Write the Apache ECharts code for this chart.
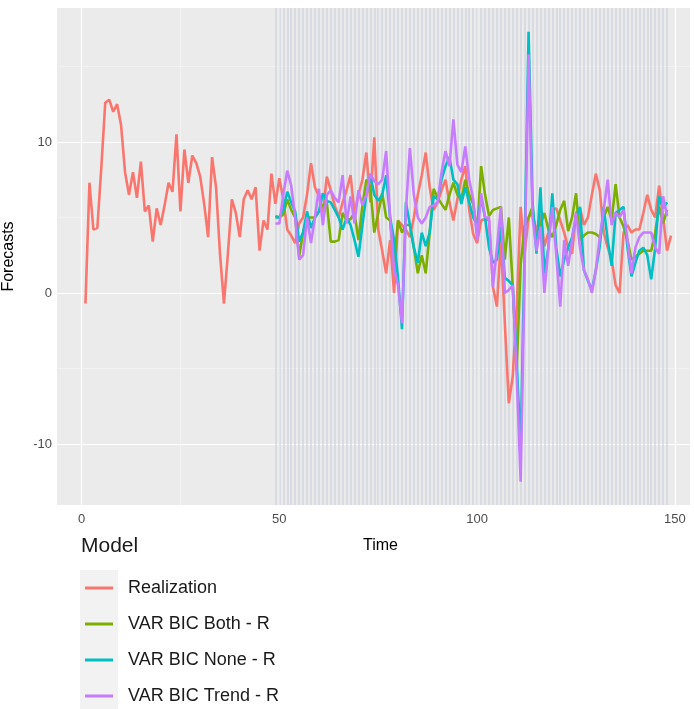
<!DOCTYPE html>
<html><head><meta charset="utf-8">
<script src="https://cdn.jsdelivr.net/npm/echarts@6/dist/echarts.min.js"></script>
<style>html,body{margin:0;padding:0;background:#fff}#c{width:694px;height:709px}</style>
</head><body><div id="c"></div>
<script>
// Realization, t = 1..149
const realization = [
 -0.7, 7.3, 4.2, 4.3, 8.3, 12.6, 12.8, 12.0, 12.5, 11.1,
  8.0, 6.5, 8.0, 6.3, 8.7, 5.4, 5.8, 3.4, 5.6, 4.5,
  5.8, 7.3, 6.7, 10.5, 5.4, 9.5, 7.3, 9.1, 8.6, 7.7,
  5.9, 3.7, 9.0, 7.0, 2.6, -0.7, 2.6, 6.2, 5.3, 3.7,
  6.2, 6.8, 6.2, 7.0, 2.8, 4.8, 4.2, 7.9, 5.9, 7.6,
  6.2, 4.2, 3.8, 3.3, 4.6, 5.0, 6.5, 8.6, 7.0, 6.4,
  5.3, 7.7, 6.8, 5.8, 5.0, 6.0, 6.8, 7.8, 5.3, 6.5,
  7.5, 9.3, 6.0, 10.3, 4.2, 2.8, 1.3, 3.5, 0.0, 4.8,
  4.5, 4.2, 3.7, 5.0, 6.5, 7.8, 9.3, 7.0, 5.5, 6.0,
  6.8, 7.5, 6.0, 4.8, 6.2, 7.5, 8.4, 5.5, 3.9, 3.3,
  4.8, 4.9, 4.8, 0.4, -0.9, 3.5, -2.0, -7.3, -5.5, -1.0,
  5.7, 2.6, 5.0, 5.3, 4.0, 5.2, 3.1, 4.0, 5.5, 5.6,
  4.8, 4.0, 3.0, 2.6, 5.3, 5.6, 4.5, 5.0, 6.5, 7.9,
  6.8, 4.0, 3.0, 2.2, 0.5, 0.0, 4.0, 4.5, 4.0, 4.2,
  4.2, 5.3, 6.5, 5.5, 5.0, 7.1, 5.0, 2.8, 3.8
];
const realizationStart = 1;

// Forecasts, t = 49..148
const forecastStart = 49;
const varBoth = [
  5.1, 5.0, 5.2, 6.2, 5.5, 5.0, 2.4, 4.0, 5.0, 5.0,
  5.0, 5.4, 5.8, 6.0, 3.4, 3.4, 3.5, 5.3, 4.8, 4.9,
  5.3, 3.5, 5.8, 7.5, 7.0, 4.0, 5.3, 6.6, 5.0, 4.8,
  2.0, 4.8, 4.0, 4.5, 4.5, 3.0, 1.3, 2.5, 1.3, 4.0,
  6.9, 6.3, 5.9, 5.5, 6.5, 7.3, 6.5, 6.2, 7.5, 6.5,
  5.9, 4.0, 8.4, 6.5, 5.1, 5.5, 5.6, 5.7, 2.2, 5.0,
  0.4, -5.1, 1.9, 4.4, 5.0, 5.7, 3.1, 4.5, 5.3, 4.2,
  3.7, 4.5, 5.5, 6.1, 4.1, 5.0, 6.6, 3.5, 3.8, 4.0,
  4.0, 3.9, 3.7, 5.0, 5.7, 4.8, 7.2, 5.0, 4.4, 3.5,
  2.2, 2.4, 2.6, 2.8, 2.8, 2.8, 4.0, 5.7, 4.6, 5.5
];
const varNone = [
  5.0, 5.0, 5.5, 6.7, 6.0, 5.4, 3.4, 4.0, 5.4, 4.3,
  5.0, 5.4, 6.6, 6.1, 6.0, 5.5, 5.0, 4.2, 5.0, 4.5,
  3.5, 2.4, 4.5, 6.5, 7.8, 6.5, 6.1, 6.5, 7.8, 5.0,
  3.5, 1.0, -2.4, 6.0, 4.5, 3.0, 2.0, 4.0, 3.1, 4.0,
  6.4, 6.2, 7.5, 8.4, 9.0, 7.5, 7.2, 5.9, 7.0, 6.0,
  5.0, 4.5, 6.3, 5.0, 3.0, 2.0, 2.2, 4.4, 1.0, 0.8,
  0.5, -4.5, -10.4, 3.0, 17.3, 6.0, 2.6, 7.0, 1.3, 3.0,
  6.6, 3.0, 1.1, 2.2, 3.0, 3.7, 5.0, 5.7, 1.5, 0.8,
  0.2, 1.5, 3.1, 5.7, 3.5, 1.8, 5.3, 5.5, 5.7, 3.0,
  1.1, 2.0, 2.8, 3.0, 2.5, 0.9, 3.0, 6.4, 5.6, 6.0
];
const varTrend = [
  4.6, 4.6, 6.5, 8.1, 7.1, 5.0, 2.2, 2.5, 5.0, 3.3,
  5.0, 6.9, 4.5, 6.5, 6.8, 6.3, 6.0, 7.8, 4.6, 6.4,
  4.6, 6.8, 5.8, 6.5, 7.9, 7.4, 7.2, 7.5, 9.4, 5.0,
  1.6, 0.5, -2.0, 5.5, 9.6, 6.5, 5.0, 4.6, 5.0, 5.7,
  5.8, 6.0, 8.0, 9.4, 8.4, 11.5, 8.5, 8.0, 9.7, 7.5,
  6.2, 3.5, 6.6, 5.0, 5.0, 0.4, 3.0, 5.7, 0.0, 0.2,
  0.5, -5.5, -12.5, 1.5, 15.8, 5.0, 2.8, 4.4, 0.0, 3.0,
  5.7, 2.5, -0.9, 3.5, 1.8, 3.5, 5.3, 3.0, 1.5, 0.9,
  0.0, 1.5, 3.7, 5.5, 7.5, 4.5, 5.3, 5.0, 5.5, 3.5,
  1.3, 3.0, 3.7, 4.0, 4.0, 4.0, 3.0, 2.6, 6.4, 5.1
];

const seriesNames = ['Realization', 'VAR BIC Both - R', 'VAR BIC None - R', 'VAR BIC Trend - R'];
const seriesColors = ['#F8766D', '#7CAE00', '#00BFC4', '#C77CFF'];
const xTicks = [0, 50, 100, 150];
const xMinor = [25, 75, 125];
const yTicks = [-10, 0, 10];
const yMinor = [-5, 5, 15];

const FONT = 'Liberation Sans, Arial, sans-serif';
const toPairs = (arr, start) => arr.map((v, i) => [start + i, v]);
const forecastTimes = varBoth.map((_, i) => forecastStart + i);

const gridLines = [];
xMinor.forEach(v => gridLines.push({xAxis: v, lineStyle: {color: '#f7f7f7', width: 0.6, type: 'solid'}}));
yMinor.forEach(v => gridLines.push({yAxis: v, lineStyle: {color: '#f7f7f7', width: 0.6, type: 'solid'}}));
xTicks.forEach(v => gridLines.push({xAxis: v, lineStyle: {color: '#ffffff', width: 1.2, type: 'solid'}}));
yTicks.forEach(v => gridLines.push({yAxis: v, lineStyle: {color: '#ffffff', width: 1.2, type: 'solid'}}));

const chart = echarts.init(document.getElementById('c'), null, {renderer: 'canvas'});

const lineSeries = [realization, varBoth, varNone, varTrend].map((arr, k) => ({
  name: seriesNames[k],
  type: 'line',
  data: toPairs(arr, k === 0 ? realizationStart : forecastStart),
  showSymbol: false,
  symbol: 'none',
  zlevel: 1,
  z: 3 + k,
  lineStyle: {color: seriesColors[k], width: 2.6},
  itemStyle: {color: seriesColors[k]},
  animation: false
}));

chart.setOption({
  animation: false,
  backgroundColor: '#ffffff',
  grid: {left: 57, right: 4, top: 8, bottom: 204, show: true, backgroundColor: '#ebebeb', borderWidth: 0,
         containLabel: false, outerBoundsMode: 'none'},
  xAxis: {
    type: 'value', min: -6.2, max: 153.8,
    name: 'Time', nameLocation: 'middle', nameGap: 33,
    nameTextStyle: {fontFamily: FONT, fontSize: 16, color: '#000', padding: [0, 0, 0, 14]},
    axisLine: {show: false},
    axisTick: {show: true, length: 3, lineStyle: {color: '#333'}, customValues: xTicks},
    axisLabel: {customValues: xTicks, fontFamily: FONT, fontSize: 13, color: '#4d4d4d', margin: 8},
    splitLine: {show: false}
  },
  yAxis: {
    type: 'value', min: -14.04, max: 18.87,
    name: 'Forecasts', nameLocation: 'middle', nameGap: 40, nameRotate: 90,
    nameTextStyle: {fontFamily: FONT, fontSize: 16, color: '#000'},
    axisLine: {show: false},
    axisTick: {show: true, length: 3, lineStyle: {color: '#333'}, customValues: yTicks},
    axisLabel: {customValues: yTicks, fontFamily: FONT, fontSize: 13, color: '#4d4d4d', margin: 5},
    splitLine: {show: false}
  },
  legend: {
    type: 'plain',
    data: seriesNames,
    orient: 'vertical',
    left: 85, top: 579, padding: 0, height: 140,
    icon: 'rect', itemWidth: 28, itemHeight: 3, itemGap: 18,
    textStyle: {fontFamily: FONT, fontSize: 18, color: '#1a1a1a', lineHeight: 18, padding: [0, 0, 0, 10]},
    selectedMode: false
  },
  graphic: [
    {type: 'rect', left: 80, top: 570, shape: {width: 38, height: 139}, style: {fill: '#f2f2f2'}, z: -1, silent: true},
    {type: 'text', left: 81, top: 536, style: {text: 'Model', font: '21px ' + FONT, fill: '#1a1a1a'}}
  ],
  series: [
    {
      name: 'grid', type: 'line', data: [[0, 0]], symbol: 'none', z: 1,
      lineStyle: {opacity: 0}, silent: true,
      markLine: {silent: true, symbol: ['none', 'none'], label: {show: false}, animation: false, data: gridLines}
    },
    {
      name: 'forecastPeriods', type: 'line', data: [[forecastStart, 0]], symbol: 'none', z: 2,
      lineStyle: {opacity: 0}, silent: true,
      markLine: {
        silent: true, symbol: ['none', 'none'], label: {show: false}, animation: false,
        lineStyle: {color: 'rgb(200,206,218)', width: 2, opacity: 0.55, type: 'solid'},
        data: forecastTimes.map(t => ({xAxis: t}))
      }
    }
  ].concat(lineSeries)
});
</script>
</body></html>
